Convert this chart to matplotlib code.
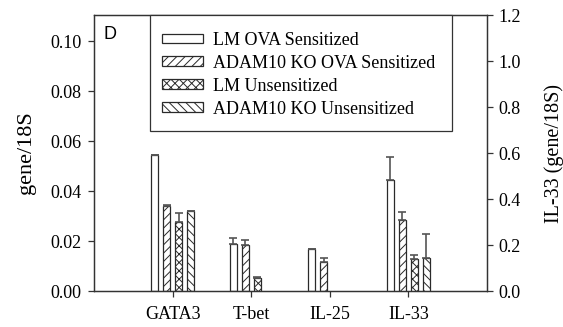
import matplotlib
matplotlib.use("Agg")
import matplotlib.pyplot as plt
from matplotlib.patches import Patch, Rectangle
import numpy as np

categories = ["GATA3", "T-bet", "IL-25", "IL-33"]
series = ["LM OVA Sensitized", "ADAM10 KO OVA Sensitized",
          "LM Unsensitized", "ADAM10 KO Unsensitized"]
# left-axis genes (GATA3, T-bet, IL-25)
lm_ova = [0.0544, 0.0188, 0.0168]
ko_ova = [0.0340, 0.0184, 0.0116]
lm_uns = [0.0277, 0.0053, 0.0]
ko_uns = [0.0321, 0.0, 0.0]
lm_ova_err = [0.0, 0.0023, 0.0]
ko_ova_err = [0.0004, 0.0020, 0.0016]
lm_uns_err = [0.0036, 0.0003, 0.0]
ko_uns_err = [0.0, 0.0, 0.0]
# IL-33 on the right axis
il33 = [0.483, 0.309, 0.139, 0.145]
il33_err = [0.101, 0.036, 0.017, 0.101]

left_vals = [lm_ova, ko_ova, lm_uns, ko_uns]
left_errs = [lm_ova_err, ko_ova_err, lm_uns_err, ko_uns_err]
hatches = ["", "////", "xxxx", "\\\\\\\\"]

plt.rcParams["hatch.linewidth"] = 0.7
serif = ["Liberation Serif", "DejaVu Serif"]
FS = 13

fig = plt.figure(figsize=(5.63, 3.27), dpi=100)
ax = fig.add_axes([0.167, 0.110, 0.698, 0.844])
ax2 = ax.twinx()

edge = "#2a2a2a"
errc = "#555555"
offsets = [-0.229, -0.076, 0.076, 0.229]
width = 0.092
xl = np.arange(1, 4)
for i in range(4):
    v = np.array(left_vals[i])
    e = np.array(left_errs[i])
    m = v > 0
    ax.bar(xl[m] + offsets[i], v[m], width, color="white", edgecolor=edge,
           linewidth=0.9, hatch=hatches[i], zorder=2)
    ax.errorbar(xl[m] + offsets[i], v[m], yerr=[np.zeros(m.sum()), e[m]],
                fmt="none", ecolor=errc, elinewidth=1.2, capsize=2.8, capthick=1.2, zorder=3)
    ax2.bar(4 + offsets[i], il33[i], width, color="white", edgecolor=edge,
            linewidth=0.9, hatch=hatches[i], zorder=2)
    ax2.errorbar(4 + offsets[i], il33[i], yerr=[[0], [il33_err[i]]],
                 fmt="none", ecolor=errc, elinewidth=1.2, capsize=2.8, capthick=1.2, zorder=3)

ax.set_xlim(0, 5)
ax.set_ylim(0, 0.1104)
ax2.set_ylim(0, 1.2)
ax.set_yticks([0, 0.02, 0.04, 0.06, 0.08, 0.10])
ax.set_yticklabels(["0.00", "0.02", "0.04", "0.06", "0.08", "0.10"], family=serif, fontsize=FS)
ax2.set_yticks([0, 0.2, 0.4, 0.6, 0.8, 1.0, 1.2])
ax2.set_yticklabels(["0.0", "0.2", "0.4", "0.6", "0.8", "1.0", "1.2"], family=serif, fontsize=FS)
ax.set_xticks(np.arange(1, 5))
ax.set_xticklabels(categories, family=serif, fontsize=FS)
for a in (ax, ax2):
    a.tick_params(direction="out", length=4, width=0.9, color="#333333", pad=5)
    for s in a.spines.values():
        s.set_color("#333333")
        s.set_linewidth(0.9)
ax.tick_params(axis="x", pad=7)
ax2.tick_params(axis="y", pad=4)

ax.set_ylabel("gene/18S", family=serif, fontsize=16, labelpad=10)
ax2.set_ylabel("IL-33 (gene/18S)", family=serif, fontsize=14.5, labelpad=17)

ax.text(0.025, 0.93, "D", transform=ax.transAxes, fontsize=13,
        family=["Liberation Sans", "DejaVu Sans"], ha="left", va="center")

# legend box
ax2.add_patch(Rectangle((0.1425, 0.5797), 0.7685, 0.4203, transform=ax.transAxes,
                        facecolor="white", edgecolor="#333333", linewidth=0.9, zorder=5,
                        clip_on=False))
handles = [Patch(facecolor="white", edgecolor=edge, hatch=h, linewidth=0.9) for h in hatches]
leg = ax2.legend(handles, series, loc="upper left", bbox_to_anchor=(0.142, 0.985),
                 frameon=False, prop={"family": serif, "size": FS},
                 handlelength=2.25, handleheight=0.45, handletextpad=0.55,
                 labelspacing=0.33, borderpad=0.2)
leg.set_zorder(6)

fig.savefig("out.png", dpi=100)
